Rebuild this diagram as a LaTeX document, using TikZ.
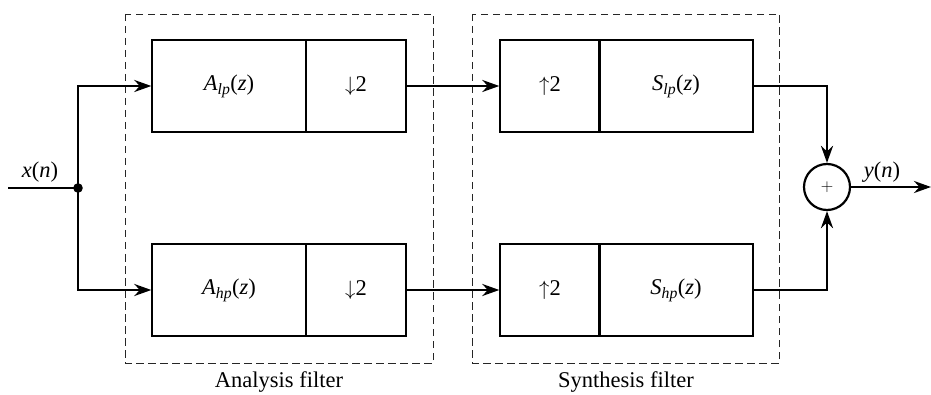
\documentclass[tikz,border=0pt]{standalone}
\usepackage{fontspec}
\setmainfont{Liberation Serif}
\usetikzlibrary{arrows.meta}
\begin{document}
\begin{tikzpicture}[x=1pt,y=-1pt,
  font=\fontsize{22.5}{26}\selectfont,
  blk/.style={draw,line width=1.4pt,minimum height=92pt,inner sep=0pt,anchor=center},
  wide/.style={blk,minimum width=154pt},
  narrow/.style={blk,minimum width=100pt},
  sig/.style={line width=2.8pt},
  arr/.style={sig,-{Stealth[length=17pt,width=12pt]}},
  dashbox/.style={draw,black!85,line width=0.9pt,dash pattern=on 7.5pt off 4.5pt},
  lbl/.style={inner sep=0pt}]
\useasboundingbox (0,0) rectangle (931,395);

% dashed groupings
\draw[dashbox] (125,14) rectangle (433,363);
\draw[dashbox] (472,14) rectangle (779,363);
\node[lbl] (alab) at (279,382) {Analysis filter};
\node[lbl] (slab) at (626,382) {Synthesis filter};

% analysis bank
\node[wide]   (alp) at (229,86)  {\textit{A}\textsubscript{\textit{lp}}(\textit{z})};
\node[narrow] (dlp) at (356,86)  {$\downarrow$2};
\node[wide]   (ahp) at (229,290) {\textit{A}\textsubscript{\textit{hp}}(\textit{z})};
\node[narrow] (dhp) at (356,290) {$\downarrow$2};

% synthesis bank
\node[narrow] (ulp) at (550,86)  {$\uparrow$2};
\node[wide]   (slp) at (676,86)  {\textit{S}\textsubscript{\textit{lp}}(\textit{z})};
\node[narrow] (uhp) at (550,290) {$\uparrow$2};
\node[wide]   (shp) at (676,290) {\textit{S}\textsubscript{\textit{hp}}(\textit{z})};

% adder
\node[draw,circle,line width=2.2pt,minimum size=46pt,inner sep=0pt] (sum) at (827,187) {};
\node[font=\fontsize{18}{20}\selectfont,inner sep=0pt] (plus) at (sum.center) {$+$};

% input and branch point
\coordinate (in) at (8,188);
\coordinate (j) at (78,188);
\coordinate (out) at (931,187);
\draw[sig] (in) -- (j);
\fill (j) circle (4.8);
\draw[arr] (j) |- (alp.west);
\draw[arr] (j) |- (ahp.west);

% links between banks
\draw[arr] (dlp.east) -- (ulp.west);
\draw[arr] (dhp.east) -- (uhp.west);

% into the adder and out
\draw[arr] (slp.east) -| (sum.north);
\draw[arr] (shp.east) -| (sum.south);
\draw[arr] (sum.east) -- (out);

\node[lbl] (xlab) at (40,172) {\textit{x}(\textit{n})};
\node[lbl] (ylab) at (882,172) {\textit{y}(\textit{n})};
\end{tikzpicture}
\end{document}
